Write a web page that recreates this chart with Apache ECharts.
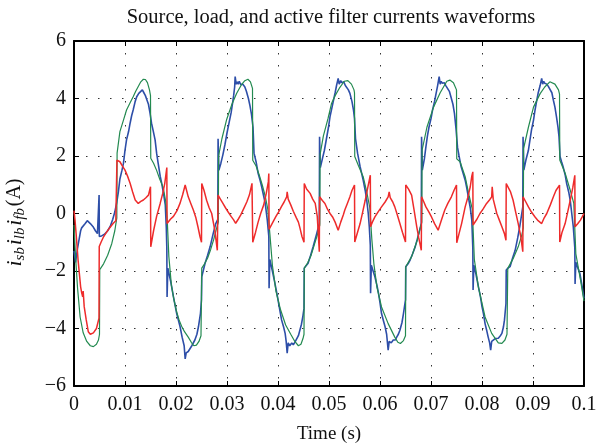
<!DOCTYPE html>
<html>
<head>
<meta charset="utf-8">
<script src="https://cdn.jsdelivr.net/npm/echarts@6/dist/echarts.min.js"></script>
<style>
  html, body { margin: 0; padding: 0; background: #fff; }
  #chart { width: 596px; height: 446px; }
</style>
</head>
<body>
<div id="chart"></div>
<script>
// Time axis (s) and current axis (A) tick labels
const xTickLabels = ['0', '0.01', '0.02', '0.03', '0.04', '0.05', '0.06', '0.07', '0.08', '0.09', '0.1'];
const yTickLabels = ['\u22126', '\u22124', '\u22122', '0', '2', '4', '6'];

// Load current (blue): [time s, current A]
const loadCurrent = [
  [0, -1.3], [0.0003, -1.7], [0.0005, -1.75], [0.0007, -1.2], [0.0010, -0.9], [0.0013, -0.6], [0.0015, -0.5],
  [0.0018, -0.45], [0.0022, -0.35], [0.0026, -0.25], [0.0028, -0.22], [0.0032, -0.35], [0.0037, -0.45],
  [0.0042, -0.6], [0.0046, -0.7], [0.0049, -0.75], [0.00492, 0.64], [0.00497, -0.8], [0.0054, -0.78],
  [0.0060, -0.72], [0.0066, -0.6], [0.0071, -0.45], [0.0076, -0.2], [0.0080, 0.05], [0.0084, 0.4],
  [0.0087, 0.75], [0.0090, 1.2], [0.0094, 1.5], [0.0097, 1.75], [0.0100, 2.2], [0.0103, 2.56], [0.0107, 2.85],
  [0.0110, 3.14], [0.0113, 3.4], [0.0116, 3.6], [0.0120, 3.9], [0.0123, 4.06], [0.0127, 4.18], [0.0130, 4.23],
  [0.0134, 4.3], [0.0137, 4.2], [0.0140, 4.1], [0.0143, 3.95], [0.0146, 3.8], [0.0149, 3.5], [0.0152, 3.14],
  [0.0155, 2.9], [0.0159, 2.56], [0.0162, 2.1], [0.0165, 1.75], [0.0169, 1.3], [0.0172, 1.05], [0.0176, 0.65],
  [0.0179, 0.3], [0.0181, -0.5], [0.0182, -1.2], [0.01825, -2.9], [0.0184, -1.9], [0.0190, -2.4], [0.0195, -2.9],
  [0.0201, -3.45], [0.0208, -3.94], [0.0212, -4.3], [0.0216, -4.6], [0.0218, -5.06], [0.0220, -4.85],
  [0.0224, -4.8], [0.0231, -4.6], [0.0237, -4.4], [0.0241, -4.2], [0.0244, -3.94], [0.0248, -3.47],
  [0.0250, -3.0], [0.02505, -2.2], [0.0257, -1.73], [0.0262, -1.45], [0.0267, -1.15], [0.0273, -0.69],
  [0.0278, -0.35], [0.0282, -0.2], [0.02825, 2.6], [0.0284, 1.5], [0.0288, 1.75], [0.0292, 2.05], [0.0296, 2.4],
  [0.0300, 2.8], [0.0304, 3.15], [0.0308, 3.5], [0.0311, 3.85], [0.0313, 4.1], [0.0315, 4.4], [0.0316, 4.76],
  [0.0318, 4.5], [0.0320, 4.58], [0.0322, 4.5], [0.0324, 4.6], [0.0327, 4.48], [0.0331, 4.5], [0.0335, 4.4],
  [0.0338, 4.25], [0.0342, 4.0], [0.0345, 3.75], [0.0348, 3.45], [0.0351, 3.0], [0.0353, 2.1], [0.0357, 1.8],
  [0.0361, 1.4], [0.0365, 1.15], [0.0368, 0.93], [0.0372, 0.6], [0.0375, 0.35], [0.0379, -0.23], [0.0382, -0.8],
  [0.03825, -2.6], [0.0384, -1.6], [0.0389, -2.0], [0.0394, -2.43], [0.0398, -2.8], [0.0401, -3.1],
  [0.0404, -3.4], [0.0407, -3.7], [0.0411, -3.95], [0.0414, -4.17], [0.0416, -4.45], [0.0418, -4.86],
  [0.0420, -4.5], [0.0423, -4.6], [0.0427, -4.5], [0.0430, -4.57], [0.0434, -4.45], [0.0437, -4.4],
  [0.0440, -4.25], [0.0443, -4.05], [0.0446, -3.85], [0.0449, -3.55], [0.0451, -3.3], [0.04515, -1.9],
  [0.0459, -1.73], [0.0464, -1.45], [0.0469, -1.15], [0.0476, -0.69], [0.0481, -0.35], [0.04815, 2.67],
  [0.0483, 1.6], [0.0487, 1.9], [0.0491, 2.2], [0.0495, 2.6], [0.0499, 3.0], [0.0502, 3.37], [0.0506, 3.7],
  [0.0509, 3.95], [0.0512, 4.2], [0.0515, 4.47], [0.0518, 4.7], [0.0520, 4.5], [0.0523, 4.62], [0.0525, 4.55],
  [0.0529, 4.58], [0.0532, 4.45], [0.0535, 4.47], [0.0538, 4.3], [0.0541, 4.18], [0.0545, 3.9], [0.0548, 3.6],
  [0.0550, 3.3], [0.0552, 2.6], [0.0556, 2.1], [0.0561, 1.63], [0.0564, 1.4], [0.0567, 1.16], [0.0571, 0.8],
  [0.0574, 0.46], [0.0577, 0.0], [0.0579, -0.46], [0.0581, -1.1], [0.05815, -2.77], [0.0583, -1.8],
  [0.0590, -2.2], [0.0594, -2.5], [0.0597, -2.77], [0.0600, -3.1], [0.0603, -3.48], [0.0607, -3.75],
  [0.0610, -3.94], [0.0613, -4.2], [0.0616, -4.75], [0.0618, -4.45], [0.0622, -4.5], [0.0626, -4.4],
  [0.0630, -4.4], [0.0633, -4.29], [0.0636, -4.2], [0.0639, -4.06], [0.0643, -3.8], [0.0646, -3.48],
  [0.0650, -3.0], [0.06505, -1.85], [0.0655, -1.75], [0.0659, -1.62], [0.0664, -1.4], [0.0669, -1.16],
  [0.0673, -0.9], [0.0676, -0.7], [0.0681, -0.35], [0.06815, 2.67], [0.0683, 1.51], [0.0687, 1.9],
  [0.0690, 2.32], [0.0693, 2.7], [0.0696, 3.0], [0.0700, 3.3], [0.0703, 3.6], [0.0707, 3.9], [0.0710, 4.18],
  [0.0713, 4.45], [0.0716, 4.76], [0.0718, 4.5], [0.0720, 4.6], [0.0722, 4.53], [0.0726, 4.55], [0.0729, 4.45],
  [0.0732, 4.47], [0.0736, 4.25], [0.0739, 4.06], [0.0743, 3.8], [0.0746, 3.48], [0.0749, 2.96], [0.0752, 2.3],
  [0.0755, 2.0], [0.0759, 1.63], [0.0763, 1.4], [0.0767, 1.16], [0.0770, 0.9], [0.0773, 0.6], [0.0777, 0.2],
  [0.0780, -0.23], [0.0782, -1.2], [0.07825, -2.66], [0.0784, -1.8], [0.0788, -2.1], [0.0793, -2.55],
  [0.0797, -2.9], [0.0800, -3.24], [0.0803, -3.5], [0.0806, -3.83], [0.0809, -4.05], [0.0812, -4.29],
  [0.0815, -4.5], [0.0817, -4.75], [0.0819, -4.45], [0.0822, -4.5], [0.0826, -4.35], [0.0829, -4.4],
  [0.0832, -4.34], [0.0836, -4.25], [0.0839, -4.17], [0.0842, -3.95], [0.0844, -3.71], [0.0847, -3.13],
  [0.08475, -1.97], [0.0851, -1.9], [0.0855, -1.85], [0.0860, -1.55], [0.0865, -1.28], [0.0870, -0.85],
  [0.0874, -0.46], [0.0878, 0.0], [0.0880, 0.23], [0.08805, 2.67], [0.0882, 1.51], [0.0886, 1.85],
  [0.0891, 2.2], [0.0894, 2.55], [0.0897, 2.9], [0.0901, 3.25], [0.0904, 3.6], [0.0907, 3.9], [0.0910, 4.18],
  [0.0914, 4.45], [0.0917, 4.7], [0.0919, 4.5], [0.0921, 4.6], [0.0923, 4.53], [0.0927, 4.5], [0.0930, 4.42],
  [0.0933, 4.41], [0.0937, 4.2], [0.0940, 3.94], [0.0943, 3.7], [0.0946, 3.37], [0.0949, 3.0], [0.0951, 2.67],
  [0.0953, 1.98], [0.0956, 1.8], [0.0959, 1.63], [0.0963, 1.35], [0.0966, 1.04], [0.0970, 0.75],
  [0.0973, 0.46], [0.0976, 0.0], [0.0979, -0.46], [0.0982, -1.2], [0.09825, -2.45], [0.0984, -1.7],
  [0.0988, -1.9], [0.0992, -2.09], [0.0996, -2.5], [0.1, -2.95]
];

// Source current (green): [time s, current A]
const sourceCurrent = [
  [0, -0.4], [0.0003, -1.5], [0.0007, -2.6], [0.0012, -3.6], [0.0018, -4.15], [0.0025, -4.45], [0.0032, -4.6],
  [0.0038, -4.63], [0.0044, -4.55], [0.0048, -4.4], [0.0050, -4.2], [0.00505, -1.95], [0.0058, -1.75],
  [0.0066, -1.45], [0.0074, -1.05], [0.0080, -0.6], [0.0084, -0.15], [0.00845, 2.1], [0.0090, 2.85],
  [0.0097, 3.25], [0.0103, 3.6], [0.0110, 3.85], [0.0116, 4.06], [0.0121, 4.25], [0.0126, 4.42],
  [0.0131, 4.58], [0.0136, 4.67], [0.0140, 4.66], [0.0144, 4.55], [0.0148, 4.3], [0.0150, 4.1],
  [0.01505, 1.92], [0.0156, 1.75], [0.0162, 1.5], [0.0168, 1.2], [0.0175, 0.9], [0.0180, 0.4],
  [0.0183, -0.3], [0.0186, -1.5], [0.0191, -2.5], [0.0196, -3.0], [0.0201, -3.4], [0.0206, -3.7],
  [0.0211, -3.92], [0.0217, -4.12], [0.0224, -4.3], [0.0230, -4.48], [0.0235, -4.6], [0.0240, -4.58],
  [0.0245, -4.45], [0.0249, -4.25], [0.02505, -1.9], [0.0256, -1.75], [0.0262, -1.55], [0.0268, -1.25],
  [0.0274, -0.9], [0.0279, -0.55], [0.0283, -0.3], [0.02835, 2.0], [0.0290, 2.6], [0.0299, 3.25],
  [0.0309, 3.77], [0.0319, 4.18], [0.0328, 4.47], [0.0335, 4.62], [0.0341, 4.67], [0.0346, 4.58],
  [0.0350, 4.35], [0.03505, 1.85], [0.0357, 1.65], [0.0363, 1.35], [0.0369, 1.0], [0.0375, 0.6],
  [0.0380, 0.15], [0.0384, -0.7], [0.0389, -1.8], [0.0396, -2.7], [0.0405, -3.35], [0.0415, -3.88],
  [0.0425, -4.2], [0.0433, -4.45], [0.0440, -4.6], [0.0445, -4.55], [0.0449, -4.35], [0.0451, -4.2],
  [0.04515, -1.9], [0.0458, -1.72], [0.0465, -1.45], [0.0471, -1.1], [0.0477, -0.75], [0.0482, -0.4],
  [0.04825, 2.05], [0.0489, 2.7], [0.0498, 3.3], [0.0505, 3.83], [0.0512, 4.1], [0.0520, 4.35],
  [0.0530, 4.6], [0.0537, 4.62], [0.0544, 4.5], [0.0549, 4.3], [0.0550, 4.2], [0.05505, 1.98],
  [0.0558, 1.65], [0.0567, 1.28], [0.0574, 0.75], [0.0580, 0.2], [0.0584, -0.9], [0.0588, -1.75],
  [0.0594, -2.56], [0.0603, -3.25], [0.0616, -3.83], [0.0629, -4.3], [0.0635, -4.48], [0.0640, -4.52],
  [0.0646, -4.42], [0.0650, -4.25], [0.06505, -1.85], [0.0662, -1.5], [0.0673, -0.93], [0.0679, -0.5],
  [0.0682, -0.3], [0.06825, 2.2], [0.0692, 3.0], [0.0705, 3.7], [0.0718, 4.2], [0.0731, 4.6],
  [0.0737, 4.64], [0.0744, 4.55], [0.0750, 4.3], [0.07505, 1.9], [0.0757, 1.8], [0.0767, 1.28],
  [0.0775, 0.6], [0.0781, 0.15], [0.0785, -1.6], [0.0793, -2.56], [0.0806, -3.6], [0.0819, -4.17],
  [0.0832, -4.5], [0.0839, -4.52], [0.0845, -4.4], [0.0849, -4.2], [0.08505, -1.91], [0.0861, -1.57],
  [0.0871, -1.16], [0.0878, -0.75], [0.0881, -0.5], [0.08815, 2.26], [0.0891, 3.0], [0.0901, 3.7],
  [0.0914, 4.17], [0.0923, 4.4], [0.0933, 4.58], [0.0943, 4.5], [0.0950, 4.3], [0.0952, 4.15],
  [0.09525, 1.86], [0.0963, 1.4], [0.0973, 0.81], [0.0980, 0.35], [0.0984, -1.4], [0.0993, -2.3], [0.1, -3.05]
];

// Active filter current (red): [time s, current A]
const filterCurrent = [
  [0, 0.1], [0.0002, -0.23], [0.0005, -0.9], [0.0008, -1.62], [0.0013, -2.55], [0.0015, -2.75], [0.0017, -2.9],
  [0.0018, -2.7], [0.0020, -3.24], [0.0024, -3.7], [0.0028, -4.11], [0.0032, -4.2], [0.0035, -4.23],
  [0.0038, -4.15], [0.0041, -4.11], [0.0044, -4.0], [0.0046, -3.94], [0.0049, -3.64], [0.00495, -1.15],
  [0.0053, -1.0], [0.0058, -0.81], [0.0062, -0.7], [0.0067, -0.57], [0.0072, -0.45], [0.0077, -0.34],
  [0.0082, -0.25], [0.0084, -0.28], [0.00842, 1.86], [0.0090, 1.8], [0.0095, 1.65], [0.0100, 1.51],
  [0.0105, 1.3], [0.0110, 1.05], [0.0115, 0.75], [0.0120, 0.47], [0.0126, 0.35], [0.0131, 0.42],
  [0.0136, 0.47], [0.0141, 0.55], [0.0146, 0.64], [0.0150, 0.93], [0.01505, -1.16], [0.0156, -0.6],
  [0.0162, -0.1], [0.0169, 0.35], [0.0174, 0.7], [0.0178, 1.05], [0.0182, 1.6], [0.01825, -0.35],
  [0.0189, -0.2], [0.0195, -0.1], [0.0202, 0.1], [0.0208, 0.36], [0.0213, 0.65], [0.0218, 0.99],
  [0.0224, 0.58], [0.0229, 0.35], [0.0234, 0.12], [0.0239, -0.15], [0.0243, -0.46], [0.0247, -0.8],
  [0.0250, -1.0], [0.02505, 1.04], [0.0255, 0.8], [0.0260, 0.46], [0.0265, 0.2], [0.0270, 0.0],
  [0.0276, -0.58], [0.0281, -1.28], [0.0282, -1.3], [0.02825, 0.64], [0.0287, 0.5], [0.0292, 0.35],
  [0.0297, 0.2], [0.0302, 0.06], [0.0308, -0.1], [0.0313, -0.22], [0.0317, -0.34], [0.0322, -0.2],
  [0.0327, -0.05], [0.0333, 0.18], [0.0339, 0.41], [0.0344, 0.65], [0.0349, 1.05], [0.03505, -1.0],
  [0.0356, -0.65], [0.0361, -0.3], [0.0366, 0.0], [0.0372, 0.3], [0.0377, 0.7], [0.0381, 1.1],
  [0.0382, 1.39], [0.03825, -0.55], [0.0390, -0.3], [0.0396, -0.1], [0.0401, 0.05], [0.0407, 0.25],
  [0.0412, 0.4], [0.0417, 0.58], [0.0418, 0.75], [0.0420, 0.5], [0.0425, 0.3], [0.0430, 0.08],
  [0.0436, -0.15], [0.0440, -0.3], [0.0443, -0.5], [0.0447, -0.8], [0.0451, -1.0], [0.04515, 1.04],
  [0.0456, 0.85], [0.0463, 0.7], [0.0468, 0.5], [0.0473, 0.35], [0.0477, -0.1], [0.0481, -1.33],
  [0.04815, 0.58], [0.0487, 0.45], [0.0492, 0.35], [0.0497, 0.15], [0.0502, 0.0], [0.0507, -0.12],
  [0.0512, -0.3], [0.0518, -0.58], [0.0523, -0.3], [0.0528, -0.05], [0.0531, 0.12], [0.0536, 0.35],
  [0.0541, 0.58], [0.0545, 0.8], [0.0550, 0.99], [0.05505, -0.99], [0.0556, -0.65], [0.0561, -0.35],
  [0.0566, 0.05], [0.0571, 0.46], [0.0576, 0.9], [0.0581, 1.33], [0.05815, -0.46], [0.0585, -0.3],
  [0.0590, -0.12], [0.0596, 0.05], [0.0603, 0.23], [0.0610, 0.4], [0.0616, 0.58], [0.0618, 0.75],
  [0.0620, 0.55], [0.0625, 0.4], [0.0629, 0.23], [0.0634, -0.05], [0.0639, -0.35], [0.0644, -0.65],
  [0.0650, -0.99], [0.06505, 0.99], [0.0656, 0.85], [0.0662, 0.64], [0.0667, 0.1], [0.0672, -0.46],
  [0.0676, -0.85], [0.0681, -1.28], [0.06815, 0.58], [0.0686, 0.4], [0.0690, 0.23], [0.0696, 0.05],
  [0.0701, -0.12], [0.0707, -0.35], [0.0714, -0.58], [0.0720, -0.25], [0.0727, 0.12], [0.0733, 0.35],
  [0.0740, 0.58], [0.0745, 0.8], [0.0750, 0.99], [0.07505, -1.02], [0.0755, -0.7], [0.0760, -0.35],
  [0.0767, 0.23], [0.0772, 0.55], [0.0777, 0.93], [0.0780, 1.3], [0.0782, 1.45], [0.07825, -0.4],
  [0.0790, -0.2], [0.0796, 0.0], [0.0802, 0.15], [0.0809, 0.35], [0.0815, 0.48], [0.0819, 0.58],
  [0.0820, 0.93], [0.0822, 0.5], [0.0829, 0.0], [0.0834, -0.23], [0.0839, -0.46], [0.0844, -0.7],
  [0.0847, -0.93], [0.08475, 1.04], [0.0856, 0.75], [0.0861, 0.46], [0.0866, 0.05], [0.0871, -0.35],
  [0.0876, -0.8], [0.0880, -1.33], [0.08805, 0.58], [0.0886, 0.4], [0.0891, 0.23], [0.0897, 0.05],
  [0.0904, -0.12], [0.0910, -0.25], [0.0917, -0.35], [0.0922, -0.15], [0.0927, 0.0], [0.0934, 0.3],
  [0.0940, 0.58], [0.0945, 0.8], [0.0952, 0.99], [0.09525, -0.99], [0.0957, -0.65], [0.0963, -0.35],
  [0.0968, 0.05], [0.0973, 0.46], [0.0978, 0.9], [0.0982, 1.33], [0.09825, -0.46], [0.0988, -0.35],
  [0.0993, -0.23], [0.0997, -0.1], [0.1, 0.0]
];

const SERIF = '"Liberation Serif", "Times New Roman", serif';
const chart = echarts.init(document.getElementById('chart'), null, { renderer: 'canvas' });

const frameLine = { show: true, onZero: false, lineStyle: { color: '#000', width: 2 } };
const innerTick = { show: true, inside: true, length: 5, lineStyle: { color: '#000', width: 1 } };
const dotGrid = { show: true, lineStyle: { color: '#333', width: 1, type: [1.5, 10.5] } };

chart.setOption({
  animation: false,
  backgroundColor: '#fff',
  graphic: [{
    type: 'text', x: 331, y: 7,
    style: {
      text: 'Source, load, and active filter currents waveforms',
      fill: '#111', font: '20.5px ' + SERIF, textAlign: 'center', textVerticalAlign: 'top'
    }
  }],
  grid: { left: 74, right: 12, top: 41, bottom: 60, containLabel: false, outerBoundsMode: 'none' },
  xAxis: [{
    type: 'value', min: 0, max: 0.1, interval: 0.01,
    name: 'Time (s)', nameLocation: 'middle', nameGap: 39,
    nameTextStyle: { color: '#111', fontFamily: SERIF, fontSize: 19 },
    axisLine: frameLine, axisTick: innerTick, splitLine: dotGrid,
    axisLabel: {
      color: '#111', fontFamily: SERIF, fontSize: 20, margin: 9,
      formatter: v => xTickLabels[Math.round(v / 0.01)]
    }
  }, {
    type: 'value', min: 0, max: 0.1, interval: 0.01, position: 'top',
    axisLine: frameLine, axisTick: innerTick, axisLabel: { show: false }, splitLine: { show: false }
  }],
  yAxis: [{
    type: 'value', min: -6, max: 6, interval: 2,
    name: '{i|i}{s|sb}{g| }{i|i}{s|lb}{g| }{i|i}{s|fb}{g| }{n|(A)}',
    nameLocation: 'middle', nameGap: 46, nameRotate: 90,
    nameTextStyle: {
      color: '#111', padding: [0, 18, 0, 0],
      rich: {
        i: { fontFamily: SERIF, fontStyle: 'italic', fontSize: 22, lineHeight: 26, verticalAlign: 'middle', color: '#111' },
        s: { fontFamily: SERIF, fontStyle: 'italic', fontSize: 15, lineHeight: 14, verticalAlign: 'bottom', color: '#111' },
        g: { fontFamily: SERIF, fontSize: 7, lineHeight: 26, verticalAlign: 'middle' },
        n: { fontFamily: SERIF, fontSize: 20, lineHeight: 26, verticalAlign: 'middle', color: '#111' }
      }
    },
    axisLine: frameLine, axisTick: innerTick, splitLine: dotGrid,
    axisLabel: {
      color: '#111', fontFamily: SERIF, fontSize: 20, margin: 8,
      formatter: v => yTickLabels[Math.round((v + 6) / 2)]
    }
  }, {
    type: 'value', min: -6, max: 6, interval: 2, position: 'right',
    axisLine: frameLine, axisTick: innerTick, axisLabel: { show: false }, splitLine: { show: false }
  }],
  series: [
    { name: 'load', type: 'line', data: loadCurrent, showSymbol: false, symbol: 'none', clip: true,
      lineStyle: { color: '#2d4ea8', width: 1.6 }, z: 2 },
    { name: 'source', type: 'line', data: sourceCurrent, showSymbol: false, symbol: 'none', clip: true,
      lineStyle: { color: '#238a50', width: 1.2 }, z: 3 },
    { name: 'filter', type: 'line', data: filterCurrent, showSymbol: false, symbol: 'none', clip: true,
      lineStyle: { color: '#ee2b2b', width: 1.5 }, z: 4 }
  ]
});
</script>
</body>
</html>
